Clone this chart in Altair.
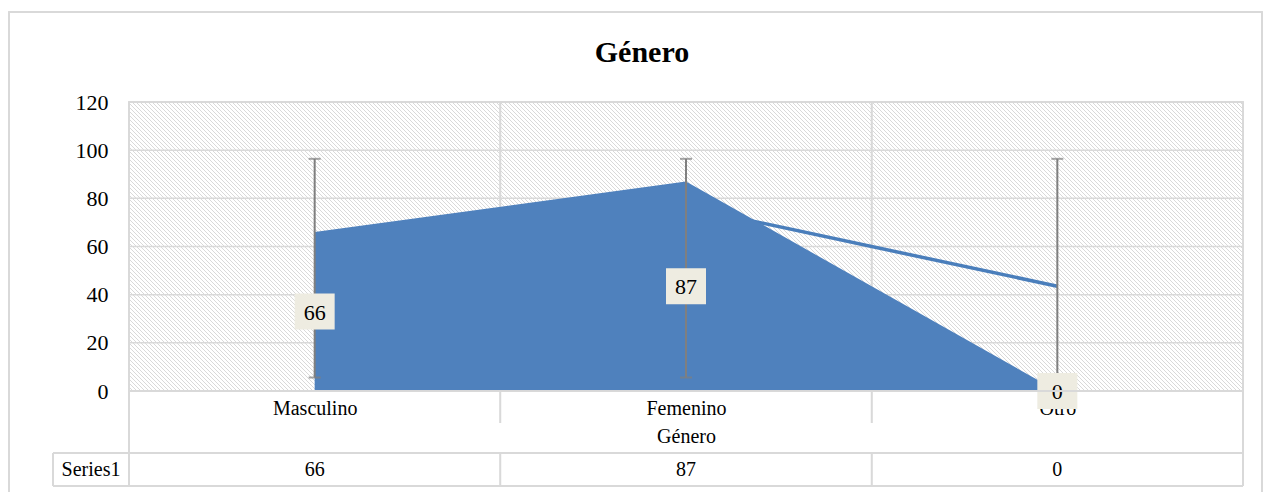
import altair as alt
import pandas as pd

# ---- data ----
categories = ["Masculino", "Femenino", "Otro"]
values = [66, 87, 0]
trend_values = [None, 76.5, 43.5]      # 2-period moving average line
err_low = [5.6, 5.6, 5.6]
err_high = [96.4, 96.4, 96.4]
y_ticks = [0, 20, 40, 60, 80, 100, 120]
series_name = "Series1"
title_text = "Género"
axis_title = "Género"

W, H = 1114, 289
FONT = "Liberation Serif"
GRID = "#d9d9d9"

df = pd.DataFrame({
    "category": categories,
    "value": values,
    "trend": trend_values,
    "lo": err_low,
    "hi": err_high,
})
grid_df = pd.DataFrame({"y": [t for t in y_ticks if 0 < t < max(y_ticks)]})

y_scale = alt.Scale(domain=[min(y_ticks), max(y_ticks)], nice=False)
y_axis = alt.Axis(values=y_ticks, grid=False, domain=False, ticks=False, labelFont=FONT,
                  labelFontSize=22, labelColor="black", labelPadding=21, title=None)
x_axis = alt.Axis(labelAngle=0, domain=False, ticks=False, labelFont=FONT,
                  labelFontSize=20, labelColor="black", labelPadding=7,
                  title=axis_title, titleFont=FONT, titleFontSize=20,
                  titleFontWeight="normal", titleColor="black", titlePadding=8)


def X():
    return alt.X("category:N", sort=categories,
                 scale=alt.Scale(type="point", padding=0.5), axis=x_axis)


def Y(field):
    return alt.Y(field, scale=y_scale, axis=y_axis, title=None)


# ---- hatched plot-area background (decorative pattern, pixel space) ----
STEP = 4
hatch_df = pd.DataFrame({"x0": list(range(-H - STEP, W + STEP, STEP))})
hatch = alt.Chart(hatch_df).transform_calculate(
    x1="datum.x0 + %d" % H, ytop="%d" % H, ybot="0"
).mark_rule(color="#d9d9d9", strokeWidth=1.0, clip=True).encode(
    x=alt.X("x0:Q", scale=alt.Scale(domain=[0, W], nice=False, zero=False), axis=None),
    x2="x1:Q",
    y=alt.Y("ytop:Q", scale=alt.Scale(domain=[0, H], nice=False), axis=None),
    y2="ybot:Q",
)

base = alt.Chart(df)

outer = base.mark_rect(fill=None, stroke=GRID, strokeWidth=1.5).encode(
    x=alt.value(-120), x2=alt.value(1133), y=alt.value(-90), y2=alt.value(400))

hgrid = alt.Chart(grid_df).mark_rule(color=GRID, strokeWidth=1.5).encode(y=Y("y:Q"))

vgrid = base.mark_rule(color=GRID, strokeWidth=1.5).encode(
    x=alt.value(W / 3), y=alt.value(0), y2=alt.value(H + 32))
vgrid2 = base.mark_rule(color=GRID, strokeWidth=1.5).encode(
    x=alt.value(2 * W / 3), y=alt.value(0), y2=alt.value(H + 32))

trend = base.transform_filter("isValid(datum.trend)").mark_line(
    color="#4A7EBB", strokeWidth=3.5).encode(x=X(), y=Y("trend:Q"))

area = base.mark_area(color="#4F81BD", opacity=1).encode(x=X(), y=Y("value:Q"))

err = base.mark_rule(color="#7f7f7f", strokeWidth=2).encode(x=X(), y=Y("lo:Q"), y2="hi:Q")
cap_lo = base.mark_tick(color="#7f7f7f", orient="horizontal", size=12, thickness=2).encode(
    x=X(), y=Y("lo:Q"))
cap_hi = base.mark_tick(color="#7f7f7f", orient="horizontal", size=12, thickness=2).encode(
    x=X(), y=Y("hi:Q"))

lab = base.transform_calculate(mid="datum.value / 2")
box = lab.mark_point(shape="M-1,-0.9L1,-0.9L1,0.9L-1,0.9Z", size=1600, filled=True,
                     fill="#EEECE1", opacity=1, strokeWidth=0).encode(x=X(), y=Y("mid:Q"))
lab_text = lab.mark_text(font=FONT, fontSize=22, color="black", baseline="middle", dy=1).encode(
    x=X(), y=Y("mid:Q"), text="value:Q")

plot_border = base.mark_rect(fill=None, stroke=GRID, strokeWidth=1.5).encode(
    x=alt.value(0), x2=alt.value(W), y=alt.value(0), y2=alt.value(H))

# ---- data table below the chart ----
TT, TB = 351, 384
tbl_lines = [
    base.mark_rule(color=GRID, strokeWidth=1.5).encode(x=alt.value(-76), x2=alt.value(W), y=alt.value(TT)),
    base.mark_rule(color=GRID, strokeWidth=1.5).encode(x=alt.value(-76), x2=alt.value(W), y=alt.value(TB)),
    base.mark_rule(color=GRID, strokeWidth=1.5).encode(x=alt.value(-76), y=alt.value(TT), y2=alt.value(TB)),
    base.mark_rule(color=GRID, strokeWidth=1.5).encode(x=alt.value(0), y=alt.value(H), y2=alt.value(TB)),
    base.mark_rule(color=GRID, strokeWidth=1.5).encode(x=alt.value(W / 3), y=alt.value(TT), y2=alt.value(TB)),
    base.mark_rule(color=GRID, strokeWidth=1.5).encode(x=alt.value(2 * W / 3), y=alt.value(TT), y2=alt.value(TB)),
    base.mark_rule(color=GRID, strokeWidth=1.5).encode(x=alt.value(W), y=alt.value(H), y2=alt.value(TB)),
]
tbl_name = alt.Chart(pd.DataFrame({"t": [series_name]})).mark_text(
    font=FONT, fontSize=20, color="black", baseline="middle").encode(
    x=alt.value(-38), y=alt.value((TT + TB) / 2), text="t:N")
tbl_vals = base.mark_text(font=FONT, fontSize=20, color="black", baseline="middle").encode(
    x=X(), y=alt.value((TT + TB) / 2), text="value:Q")

title = alt.Chart(pd.DataFrame({"t": [title_text]})).mark_text(
    font=FONT, fontSize=30, fontWeight="bold", color="black", baseline="alphabetic").encode(
    x=alt.value(513), y=alt.value(-40), text="t:N")

main = alt.layer(
    hgrid, vgrid, vgrid2, trend, area, err, cap_lo, cap_hi,
    box, lab_text, plot_border, *tbl_lines, tbl_name, tbl_vals, title, outer
)

chart = alt.layer(hatch, main).resolve_scale(x="independent", y="independent").properties(
    width=W, height=H,
    autosize=alt.AutoSizeParams(type="none"),
    padding={"left": 129, "top": 102, "right": 27, "bottom": 101},
).configure_view(stroke=None).configure(background="white")

chart.save("out.html", embed_options={"renderer": "svg", "actions": False})
